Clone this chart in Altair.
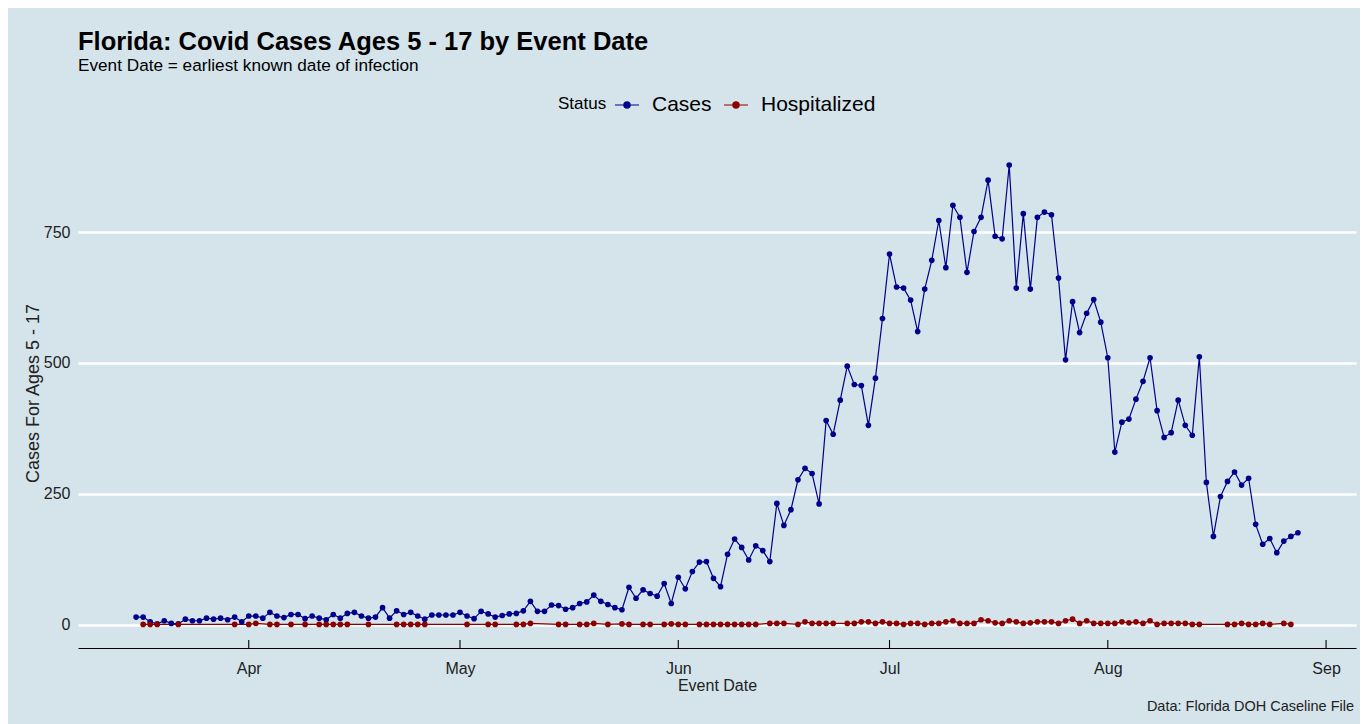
import altair as alt
import pandas as pd

# ---------------- data ----------------
case_first_day = "2020-03-16"
cases = [15, 15, 6, 2, 8, 3, 2, 11, 8, 8, 13, 11, 13, 10, 15, 6,
         17, 17, 13, 24, 17, 14, 20, 20, 12, 17, 13, 10, 20, 13, 22, 24, 17, 13, 15, 33,
         13, 27, 20, 24, 17, 11, 19, 19, 19, 19,
         24, 17, 12, 26, 21, 15, 18, 21, 22, 27, 45, 26, 26, 38, 37, 30, 33, 41, 44, 57,
         45, 39, 33, 29, 72, 51, 67, 60, 55, 79, 41,
         91, 69, 102, 120, 121, 89, 73, 135, 164, 148, 124, 151, 142, 121, 232, 190, 220,
         277, 299, 289, 231, 390, 364, 429, 494, 459, 457, 381, 471, 585,
         708, 645, 643, 620, 560, 641, 696, 772, 682, 801, 778, 673, 751, 778, 849, 742,
         737, 878, 643, 785, 641, 778, 788, 783, 662, 506, 617, 558, 595, 621, 578,
         510, 330, 387, 393, 431, 465, 510, 409, 358, 367, 429, 381, 362, 512, 272, 169,
         245, 274, 292, 267, 280, 192, 154, 165, 138, 160, 169, 176]

hosp_days = ["03-17", "03-18", "03-19", "03-22", "03-30",
             "04-01", "04-02", "04-04", "04-05", "04-07", "04-09", "04-11", "04-12", "04-13",
             "04-14", "04-15", "04-18", "04-22", "04-23", "04-24", "04-25", "04-26",
             "05-02", "05-05", "05-06", "05-09", "05-10", "05-11", "05-15", "05-16", "05-18",
             "05-19", "05-20", "05-22", "05-24", "05-25", "05-27", "05-28", "05-30", "05-31",
             "06-01", "06-02", "06-04", "06-05", "06-06", "06-07", "06-08", "06-09", "06-10",
             "06-11", "06-12", "06-14", "06-15", "06-16", "06-18", "06-19", "06-20", "06-21",
             "06-22", "06-23", "06-25", "06-26", "06-27", "06-28", "06-29", "06-30",
             "07-01", "07-02", "07-03", "07-04", "07-05", "07-06", "07-07", "07-08", "07-09",
             "07-10", "07-11", "07-12", "07-13", "07-14", "07-15", "07-16", "07-17", "07-18",
             "07-19", "07-20", "07-21", "07-22", "07-23", "07-24", "07-25", "07-26", "07-27",
             "07-28", "07-29", "07-30", "07-31",
             "08-01", "08-02", "08-03", "08-04", "08-05", "08-06", "08-07", "08-08", "08-09",
             "08-10", "08-11", "08-12", "08-13", "08-14", "08-18", "08-19", "08-20", "08-21",
             "08-22", "08-23", "08-24", "08-26", "08-27"]
hosp = [1, 1, 1, 1, 1,
        1, 3, 1, 1, 1, 1, 1, 1, 1,
        1, 1, 1, 1, 1, 1, 1, 1,
        1, 1, 1, 1, 1, 3, 1, 1, 1,
        1, 3, 1, 2, 1, 1, 1, 1, 2,
        1, 1, 1, 1, 1, 1, 1, 1, 1,
        1, 1, 3, 3, 3, 1, 6, 3, 3,
        3, 3, 3, 3, 6, 6, 3, 6,
        3, 3, 1, 3, 3, 1, 3, 3, 6,
        8, 3, 3, 3, 10, 8, 4, 3, 8,
        6, 3, 4, 6, 6, 6, 3, 8, 11,
        3, 8, 3, 3,
        3, 3, 6, 4, 6, 3, 8, 1, 3,
        3, 3, 3, 1, 1, 1, 1, 3, 1,
        1, 3, 1, 3, 1]

series_names = ["Cases", "Hospitalized"]
series_colors = ["#00008B", "#8B0000"]
month_ticks = ["2020-04-01", "2020-05-01", "2020-06-01", "2020-07-01", "2020-08-01", "2020-09-01"]
y_ticks = [0, 250, 500, 750]

title_text = "Florida: Covid Cases Ages 5 - 17 by Event Date"
subtitle_text = "Event Date = earliest known date of infection"
caption_text = "Data: Florida DOH Caseline File"

# ---------------- tables ----------------
case_dates = pd.date_range(case_first_day, periods=len(cases), freq="D").strftime("%Y-%m-%dT00:00:00")
df_cases = pd.DataFrame({"date": list(case_dates), "value": cases, "status": series_names[0]})
df_hosp = pd.DataFrame({"date": ["2020-" + d + "T00:00:00" for d in hosp_days],
                        "value": hosp, "status": series_names[1]})
df = pd.concat([df_cases, df_hosp], ignore_index=True)
df_ticks = pd.DataFrame({"date": [d + "T00:00:00" for d in month_ticks]})
df_caption = pd.DataFrame({"t": [caption_text]})

W, H = 1278, 504
FONT = "Liberation Sans"

x_scale = alt.Scale(domain=[alt.DateTime(year=2020, month=3, date=7, hours=18),
                            alt.DateTime(year=2020, month=9, date=5, hours=6)])
y_scale = alt.Scale(domain=[-44, 918], nice=False, zero=False)
color_scale = alt.Scale(domain=series_names, range=series_colors)

x_axis = alt.Axis(values=[alt.DateTime(year=2020, month=int(m[5:7]), date=1) for m in month_ticks],
                  format="%b", grid=False, ticks=False, tickSize=0,
                  domain=True, domainColor="black", domainWidth=1.2,
                  labelFontSize=16, labelColor="#222222", labelPadding=12, labelFont=FONT,
                  title="Event Date", titleFontSize=16, titleFontWeight="normal",
                  titleColor="#222222", titlePadding=1, titleFont=FONT)
y_axis = alt.Axis(values=y_ticks, grid=True, gridColor="white", gridWidth=2.5,
                  ticks=False, tickSize=0, domain=False,
                  labelFontSize=16, labelColor="#222222", labelPadding=8, labelFont=FONT,
                  title="Cases For Ages 5 - 17", titleFontSize=18, titleFontWeight="normal",
                  titleColor="#222222", titleFont=FONT, titleBaseline="middle",
                  titleX=-45, titleY=H / 2 - 3)

symbol_path = ("M-1,0L1,0M-0.26,0A0.26,0.26,0,1,0,0.26,0A0.26,0.26,0,1,0,-0.26,0Z")
legend = alt.Legend(orient="none", legendX=480, legendY=-52, direction="horizontal",
                    title="Status", titleOrient="left", titleFontSize=17,
                    titleFontWeight="normal", titleColor="black", titleFont=FONT,
                    titlePadding=7, titleBaseline="middle",
                    labelFontSize=21, labelColor="black", labelFont=FONT,
                    symbolType=symbol_path, symbolSize=576, symbolStrokeWidth=1.2,
                    labelOffset=12, columnPadding=9, padding=0)

base = alt.Chart(df).encode(
    x=alt.X("date:T", scale=x_scale, axis=x_axis),
    y=alt.Y("value:Q", scale=y_scale, axis=y_axis),
    color=alt.Color("status:N", scale=color_scale, legend=legend),
)
lines = base.mark_line(strokeWidth=1.2)
points = base.mark_circle(size=32, opacity=1)

ticks = alt.Chart(df_ticks).mark_rule(color="black", strokeWidth=1.1).encode(
    x=alt.X("date:T", scale=x_scale, axis=x_axis),
    y=alt.value(H - 8), y2=alt.value(H))

caption = alt.Chart(df_caption).mark_text(
    align="right", baseline="middle", fontSize=14.5, color="#222222", font=FONT
).encode(x=alt.value(W - 2), y=alt.value(H + 59), text="t:N")

chart = alt.layer(lines, points, ticks, caption).properties(
    width=W, height=H,
    title=alt.TitleParams(text=title_text, subtitle=subtitle_text, anchor="start", frame="group",
                          font=FONT, fontSize=25.5, fontWeight="bold", color="black",
                          subtitleFont=FONT, subtitleFontSize=17.2, subtitleColor="black",
                          subtitlePadding=1, offset=18),
    background="#d5e4eb",
    padding={"left": 70, "right": 4, "top": 136, "bottom": 76},
    autosize=alt.AutoSizeParams(type="none"),
).configure(font=FONT).configure_view(strokeWidth=0, stroke=None, fill=None)

chart.save("out.html", embed_options={"renderer": "svg", "actions": False})
